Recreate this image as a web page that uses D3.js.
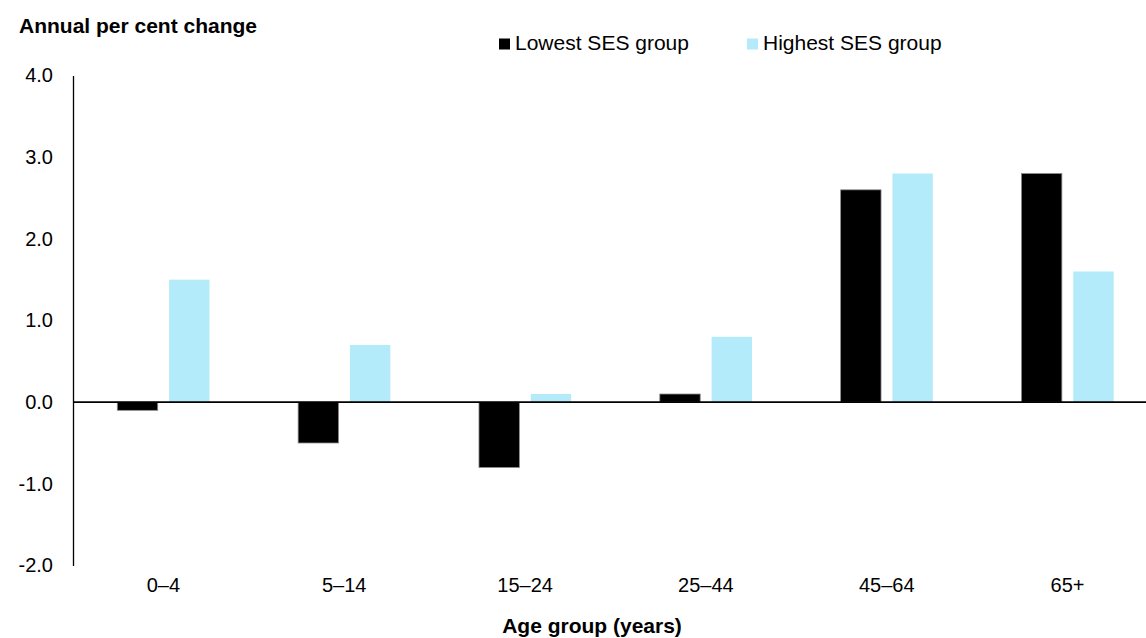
<!DOCTYPE html>
<html>
<head>
<meta charset="utf-8">
<script src="https://cdn.jsdelivr.net/npm/d3@7"></script>
<style>
  html, body { margin: 0; padding: 0; background: #fff; }
  svg { display: block; font-family: "Liberation Sans", Arial, sans-serif; }
</style>
</head>
<body>
<svg id="chart" width="1146" height="638"></svg>
<script>
const categories = ["0–4", "5–14", "15–24", "25–44", "45–64", "65+"];
const seriesNames = ["Lowest SES group", "Highest SES group"];
const lowestSES = [-0.1, -0.5, -0.8, 0.1, 2.6, 2.8];
const highestSES = [1.5, 0.7, 0.1, 0.8, 2.8, 1.6];
const yTicks = [-2, -1, 0, 1, 2, 3, 4];
const colors = ["#000000", "#b4ebfa"];

const svg = d3.select("#chart");
const plotLeft = 73, plotRight = 1158, plotTop = 75.5, plotBottom = 565.5;

const x = d3.scaleBand().domain(categories).range([plotLeft, plotRight]).paddingInner(0).paddingOuter(0);
const y = d3.scaleLinear().domain([-2, 4]).range([plotBottom, plotTop]);
const inner = d3.scaleBand().domain(seriesNames).range([44.3, 136.5]).paddingInner(0.22);

const rows = categories.map((c, i) => ({ cat: c, values: [lowestSES[i], highestSES[i]] }));

const g = svg.append("g");
g.selectAll("g.grp").data(rows).join("g").attr("class", "grp")
  .attr("transform", d => `translate(${x(d.cat)},0)`)
  .selectAll("rect").data(d => d.values.map((v, j) => ({ v, j })))
  .join("rect")
  .attr("x", d => inner(seriesNames[d.j]))
  .attr("width", inner.bandwidth())
  .attr("y", d => Math.min(y(d.v), y(0)))
  .attr("height", d => Math.abs(y(d.v) - y(0)))
  .attr("fill", d => colors[d.j])
  .attr("stroke", d => d.j === 0 ? "#8c8c8c" : "none")
  .attr("stroke-width", 0.8);

// Y axis
const fmt = d => d.toFixed(1);
const yAxis = d3.axisLeft(y).tickValues(yTicks).tickSize(0).tickPadding(20).tickFormat(fmt);
const ya = svg.append("g").attr("transform", `translate(${plotLeft},0)`).call(yAxis);
ya.select(".domain").attr("stroke", "#000").attr("stroke-width", 1.3);
ya.selectAll("text").attr("font-size", 20).attr("fill", "#000")
  .attr("font-family", "'Liberation Sans', Arial, sans-serif");

// Zero line
svg.append("line").attr("x1", plotLeft).attr("x2", 1146).attr("y1", y(0)).attr("y2", y(0))
  .attr("stroke", "#000").attr("stroke-width", 1.8);

// X axis labels
const xAxis = d3.axisBottom(x).tickSize(0).tickPadding(0);
const xa = svg.append("g").attr("transform", `translate(0,${plotBottom})`).call(xAxis);
xa.select(".domain").remove();
xa.selectAll("text").attr("font-size", 20).attr("fill", "#000").attr("dy", null).attr("y", 26)
  .attr("font-family", "'Liberation Sans', Arial, sans-serif");

// Titles
svg.append("text").attr("x", 19).attr("y", 33).attr("font-size", 21).attr("font-weight", "bold")
  .text("Annual per cent change");
svg.append("text").attr("x", 592).attr("y", 633).attr("text-anchor", "middle").attr("font-size", 21)
  .attr("font-weight", "bold").text("Age group (years)");

// Legend
const legendX = [499, 747];
const lg = svg.append("g").selectAll("g").data(seriesNames).join("g")
  .attr("transform", (d, i) => `translate(${legendX[i]},0)`);
lg.append("rect").attr("x", 0).attr("y", 38.5).attr("width", 11).attr("height", 11)
  .attr("fill", (d, i) => colors[i]);
lg.append("text").attr("x", 16).attr("y", 50).attr("font-size", 21).text(d => d);
</script>
</body>
</html>
